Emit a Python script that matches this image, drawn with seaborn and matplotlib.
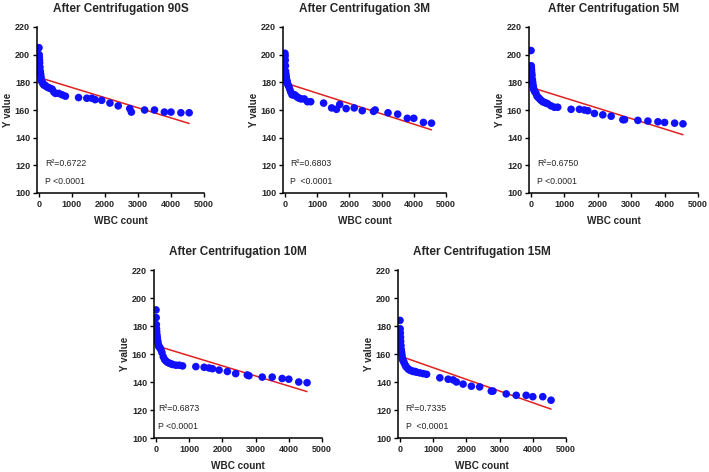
import numpy as np
import pandas as pd
import seaborn as sns
import matplotlib.pyplot as plt

sns.set_style('ticks')
plt.rcParams['font.family'] = ['Liberation Sans', 'DejaVu Sans']

# WBC counts (same samples in every panel)
wbc = [0, 5, 10, 15, 20, 30, 40, 50, 60, 70, 80, 100, 120, 150, 180, 220, 260, 300,
       350, 400, 450, 500, 600, 700, 800, 1200, 1450, 1600, 1700, 1900, 2150, 2400,
       2750, 2800, 3200, 3500, 3800, 4000, 4300, 4550]

y_90s = [205, 200, 198, 196, 194, 191, 188, 186, 184, 182, 181, 180, 179, 178, 178, 177,
         176.5, 176, 175.5, 175, 173, 172, 172, 171, 170, 169, 168.5, 168.5, 167.5, 167,
         165, 163, 161, 158.5, 160, 160, 158.5, 158.5, 158, 158]
y_3m = [201, 199, 196, 192, 188, 186, 184, 182, 181, 180, 179, 178, 177, 175, 173, 171,
        171, 171, 170, 169, 168.5, 168, 168, 166, 166, 165, 161.5, 160.5, 164, 161,
        161.5, 159.5, 159, 160, 158, 157, 154, 154, 151, 150.5]
y_5m = [203, 192, 191, 189, 187, 185, 182, 180, 178, 176.5, 175, 174, 173, 172, 170, 169,
        168, 167, 166, 165.5, 165, 164.5, 163, 162, 162, 160.5, 160.5, 160, 159.5, 157.5,
        156.5, 155.5, 153, 153, 152.5, 152, 151.5, 151, 150.5, 150]
y_10m = [191.5, 186, 181, 178, 176, 173.5, 171.5, 169.5, 168, 166.5, 165.5, 165, 164.5, 163,
         161, 158, 156, 155, 154, 153.5, 153, 152.5, 152, 152, 151.5, 151, 150.5, 150,
         149.5, 148.5, 147.5, 146, 145, 144.5, 143.5, 143.5, 142.5, 142, 140, 139.5]
y_15m = [184, 178, 175, 172, 169, 166, 163, 161, 159, 157, 156, 155, 154, 152.5, 151, 150,
         149, 148.5, 148, 147.5, 147.5, 147, 146.5, 146, 145.5, 143, 142, 141.5, 140, 138.5,
         137, 136.5, 133.5, 133.5, 131.5, 130.5, 130.5, 129.5, 129.5, 127]

titles = ['After Centrifugation 90S', 'After Centrifugation 3M', 'After Centrifugation 5M',
          'After Centrifugation 10M', 'After Centrifugation 15M']
r2_labels = ['R²=0.6722', 'R²=0.6803', 'R²=0.6750', 'R²=0.6873', 'R²=0.7335']
p_labels = ['P <0.0001', 'P  <0.0001', 'P <0.0001', 'P <0.0001', 'P  <0.0001']
series = [y_90s, y_3m, y_5m, y_10m, y_15m]

# axes boxes in pixels: left, top, right, bottom
W, H = 709, 472
boxes = [(37, 27, 204, 193), (283, 27, 446, 193), (529, 27, 698, 193),
         (154, 270, 322, 438), (398, 270, 566, 438)]
text_x = [180, 170, 180, 60, 170]

fig = plt.figure(figsize=(W / 100, H / 100), dpi=100)

for i in range(5):
    l, t, r, b = boxes[i]
    ax = fig.add_axes([l / W, 1 - b / H, (r - l) / W, (b - t) / H])
    df = pd.DataFrame({'WBC count': wbc, 'Y value': series[i]})
    sns.regplot(data=df, x='WBC count', y='Y value', ax=ax, scatter=False, ci=None,
                line_kws={'color': '#e02020', 'lw': 1.1, 'zorder': 1})
    sns.scatterplot(data=df, x='WBC count', y='Y value', ax=ax, color='#1010ff',
                    s=30, edgecolor='none', zorder=2)
    ax.set_xlim(-60, 5000)
    ax.set_ylim(100, 220)
    ax.set_xticks(range(0, 5001, 1000))
    ax.set_yticks(range(100, 221, 20))
    ax.set_title(titles[i], fontsize=8.5, fontweight='bold', pad=11)
    ax.set_xlabel('WBC count', fontsize=7.2, fontweight='bold', labelpad=5)
    ax.set_ylabel('Y value', fontsize=7, fontweight='bold', labelpad=1.5)
    ax.tick_params(labelsize=6.5, width=1, length=3, pad=2, color='black')
    for lab in ax.get_xticklabels() + ax.get_yticklabels():
        lab.set_fontweight('bold')
    for side in ['left', 'bottom']:
        ax.spines[side].set_linewidth(1.1)
        ax.spines[side].set_color('black')
    sns.despine(ax=ax)
    ax.text(text_x[i], 121, r2_labels[i], fontsize=6.3, va='center')
    ax.text(text_x[i], 108, p_labels[i], fontsize=6.3, va='center')

fig.savefig('out.png', dpi=100)
